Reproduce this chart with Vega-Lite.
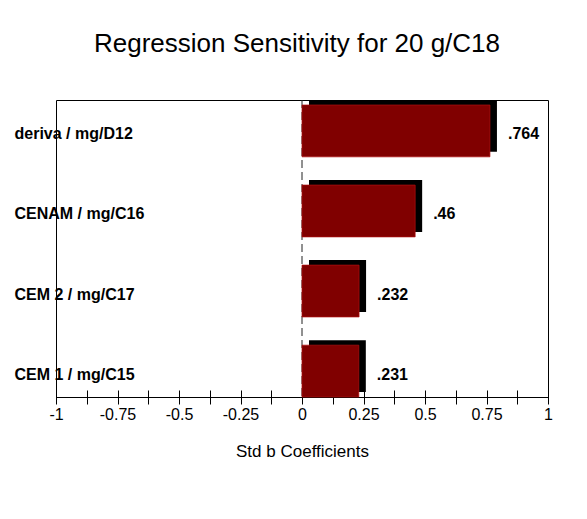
{
  "$schema": "https://vega.github.io/schema/vega-lite/v6.json",
  "width": 492,
  "height": 297,
  "autosize": {"type": "none"},
  "padding": {"left": 56, "top": 100, "right": 39, "bottom": 122},
  "background": "white",
  "config": {
    "view": {"stroke": "black", "strokeWidth": 1},
    "font": "Liberation Sans",
    "axisX": {"titleFontSize": 17, "titleFontWeight": "normal", "titleColor": "black", "titlePadding": 21, "tickSize": 14, "offset": -7, "domain": false, "grid": false, "tickColor": "black", "labelColor": "black", "labelFontSize": 16, "labelPadding": 2, "labelFlush": false, "labelOverlap": false},
    "axisY": {"ticks": false, "domain": false, "grid": false, "labelAlign": "left", "labelPadding": 42, "labelFontWeight": "bold", "labelFontSize": 16, "labelColor": "black", "labelOffset": 6, "labelBaseline": "middle", "labelLimit": 0}
  },
  "title": {"text": "Regression Sensitivity for 20 g/C18", "fontSize": 26, "fontWeight": "normal", "font": "Liberation Sans", "color": "black", "anchor": "middle", "baseline": "alphabetic", "offset": 22, "dx": -5},
  "data": {"values": [
    {"variable": "deriva / mg/D12", "coef": 0.764, "label": ".764"},
    {"variable": "CENAM / mg/C16", "coef": 0.46, "label": ".46"},
    {"variable": "CEM 2 / mg/C17", "coef": 0.232, "label": ".232"},
    {"variable": "CEM 1 / mg/C15", "coef": 0.231, "label": ".231"}
  ]},
  "encoding": {
    "y": {"field": "variable", "type": "nominal", "sort": null, "scale": {"paddingInner": 0.29, "paddingOuter": 0}, "axis": {"title": null}},
    "x": {"field": "coef", "type": "quantitative", "scale": {"domain": [-1, 1], "nice": false},
      "axis": {"title": "Std b Coefficients",
        "values": [-1, -0.875, -0.75, -0.625, -0.5, -0.375, -0.25, -0.125, 0, 0.125, 0.25, 0.375, 0.5, 0.625, 0.75, 0.875, 1],
        "labelExpr": "(datum.value * 8) % 2 == 0 ? '' + datum.value : ''"}}
  },
  "layer": [
    {
      "data": {"values": [{"zero": 0}]},
      "mark": {"type": "rule", "strokeDash": [8, 4], "color": "#222222", "strokeWidth": 1},
      "encoding": {
        "y": null,
        "x": {"field": "zero", "type": "quantitative"}
      }
    },
    {
      "mark": {"type": "bar", "color": "black", "xOffset": 7, "yOffset": -2.5, "height": {"band": 0.912}}
    },
    {
      "mark": {"type": "bar", "color": "#800000", "stroke": "#b01010", "strokeWidth": 0.7, "yOffset": 2.5, "height": {"band": 0.912}}
    },
    {
      "mark": {"type": "text", "align": "left", "baseline": "middle", "dx": 18, "yOffset": 6, "fontWeight": "bold", "fontSize": 16, "color": "black"},
      "encoding": {"text": {"field": "label"}}
    }
  ]
}
